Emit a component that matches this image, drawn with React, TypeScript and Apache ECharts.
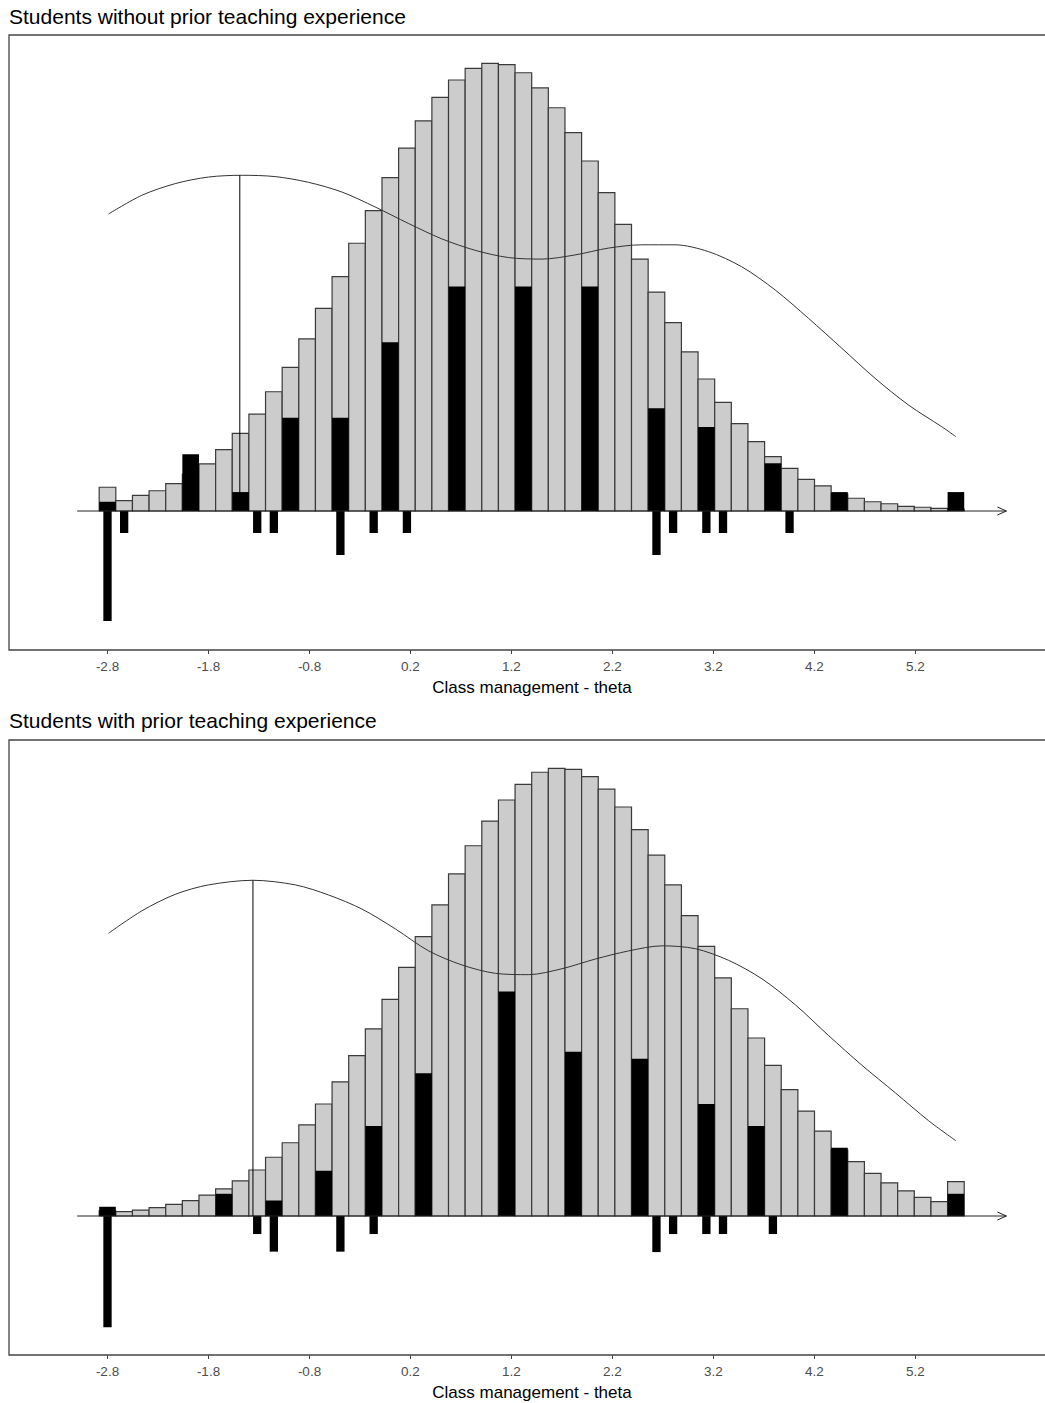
import React, { useEffect, useRef } from "react";
import * as echarts from "echarts";

// ---------- data ----------
const TITLES = [
  "Students without prior teaching experience",
  "Students with prior teaching experience",
];
const X_LABEL = "Class management - theta";
const TICKS = [-2.8, -1.8, -0.8, 0.2, 1.2, 2.2, 3.2, 4.2, 5.2];

// histogram bins: first and last bin centre (theta), 52 bins
const BIN_FIRST = -2.8;
const BIN_LAST = 5.6;
const BIN_COUNT = 52;

// axis arrow extent (theta)
const AXIS_FROM = -3.1;
const AXIS_TO = 6.1;

// Panel 1: without prior teaching experience
const grey1 = [
  1.08, 0.47, 0.71, 0.92, 1.24, 1.68, 2.14, 2.79, 3.53, 4.4,
  5.42, 6.53, 7.82, 9.21, 10.65, 12.17, 13.65, 15.15, 16.49, 17.73,
  18.8, 19.59, 20.12, 20.35, 20.29, 19.92, 19.23, 18.33, 17.2, 15.91,
  14.47, 13.03, 11.45, 9.95, 8.56, 7.23, 6.0, 4.94, 3.97, 3.15,
  2.47, 1.94, 1.44, 1.14, 0.77, 0.58, 0.42, 0.33, 0.21, 0.17,
  0.12, 0.09,
];
const blackUp1 = [
  0.42, 0, 0, 0, 0, 2.58, 0, 0, 0.86, 0,
  0, 4.24, 0, 0, 4.24, 0, 0, 7.67, 0, 0,
  0, 10.2, 0, 0, 0, 10.2, 0, 0, 0, 10.2,
  0, 0, 0, 4.67, 0, 0, 3.82, 0, 0, 0,
  2.17, 0, 0, 0, 0.86, 0, 0, 0, 0, 0,
  0, 0.86,
];
const blackDown1 = [
  5, 1, 0, 0, 0, 0, 0, 0, 0, 1,
  1, 0, 0, 0, 2, 0, 1, 0, 1, 0,
  0, 0, 0, 0, 0, 0, 0, 0, 0, 0,
  0, 0, 0, 2, 1, 0, 1, 1, 0, 0,
  0, 1, 0, 0, 0, 0, 0, 0, 0, 0,
  0, 0,
];
const curve1: [number, number][] = [
  [-2.79, 13.5], [-2.46, 14.35], [-2.13, 14.88], [-1.8, 15.18], [-1.47, 15.26],
  [-1.14, 15.2], [-0.81, 14.94], [-0.48, 14.5], [-0.15, 13.82], [0.18, 13.07],
  [0.51, 12.37], [0.84, 11.85], [1.17, 11.52], [1.5, 11.45], [1.83, 11.64],
  [2.16, 11.95], [2.49, 12.1], [2.82, 12.1], [3.15, 11.79], [3.48, 11.1],
  [3.81, 10.05], [4.14, 8.76], [4.47, 7.4], [4.8, 6.03], [5.13, 4.82],
  [5.46, 3.83], [5.6, 3.38],
];
const peak1: [number, number] = [-1.49, 15.26];

// Panel 2: with prior teaching experience
const grey2 = [
  0.23, 0.2, 0.27, 0.38, 0.53, 0.7, 0.95, 1.23, 1.6, 2.09,
  2.67, 3.33, 4.14, 5.09, 6.1, 7.29, 8.51, 9.85, 11.3, 12.7,
  14.14, 15.55, 16.83, 17.95, 18.91, 19.62, 20.17, 20.35, 20.3, 19.97,
  19.4, 18.59, 17.56, 16.4, 15.05, 13.65, 12.26, 10.82, 9.42, 8.09,
  6.85, 5.74, 4.77, 3.86, 3.0, 2.47, 1.94, 1.51, 1.14, 0.85,
  0.65, 1.56,
];
const blackUp2 = [
  0.42, 0, 0, 0, 0, 0, 0, 1.01, 0, 0,
  0.7, 0, 0, 2.06, 0, 0, 4.09, 0, 0, 6.49,
  0, 0, 0, 0, 10.2, 0, 0, 0, 7.47, 0,
  0, 0, 7.15, 0, 0, 0, 5.09, 0, 0, 4.09,
  0, 0, 0, 0, 3.1, 0, 0, 0, 0, 0,
  0, 1.01,
];
const blackDown2 = [
  5.06, 0, 0, 0, 0, 0, 0, 0, 0, 0.82,
  1.62, 0, 0, 0, 1.62, 0, 0.82, 0, 0, 0,
  0, 0, 0, 0, 0, 0, 0, 0, 0, 0,
  0, 0, 0, 1.64, 0.82, 0, 0.82, 0.82, 0, 0,
  0.82, 0, 0, 0, 0, 0, 0, 0, 0, 0,
  0, 0,
];
const curve2: [number, number][] = [
  [-2.79, 12.85], [-2.46, 13.87], [-2.13, 14.62], [-1.8, 15.05], [-1.36, 15.26],
  [-0.94, 15.05], [-0.61, 14.59], [-0.28, 13.95], [0.05, 13.05], [0.38, 12.05],
  [0.71, 11.41], [1.04, 11.03], [1.37, 10.97], [1.7, 11.24], [2.03, 11.68],
  [2.36, 12.05], [2.69, 12.28], [3.02, 12.15], [3.35, 11.62], [3.68, 10.78],
  [4.01, 9.6], [4.34, 8.2], [4.67, 6.85], [5.0, 5.6], [5.33, 4.33],
  [5.6, 3.42],
];
const peak2: [number, number] = [-1.36, 15.26];

// ---------- layout ----------
const W = 1045;
const H = 1403;
const CHART_W = 1065;
const PX_PER_UNIT = 101;
const GRID_LEFT = 9;
const GRID_RIGHT = 10;
const GRID_W = CHART_W - GRID_LEFT - GRID_RIGHT;
const X_MIN = -2.8 - (107.5 - GRID_LEFT) / PX_PER_UNIT;
const X_MAX = X_MIN + GRID_W / PX_PER_UNIT;
const GRID_H = 615;
const Y_UNIT = 22;
const Y_MIN = -139 / Y_UNIT;
const Y_MAX = 476 / Y_UNIT;
const FONT = "'Liberation Sans', Arial, sans-serif";

const binWidth = (BIN_LAST - BIN_FIRST) / (BIN_COUNT - 1);
const binCentres = Array.from({ length: BIN_COUNT }, (_, i) => BIN_FIRST + i * binWidth);

function rectSeries(idx: number, values: number[], sign: number, widthFrac: number, fill: string, stroke: string | null) {
  const data = values
    .map((v, i) => [binCentres[i], sign * v])
    .filter((d) => d[1] !== 0);
  return {
    type: "custom",
    xAxisIndex: idx,
    yAxisIndex: idx,
    clip: false,
    silent: true,
    data,
    renderItem: (_params: any, api: any) => {
      const x = api.value(0);
      const h = api.value(1);
      const half = (binWidth * widthFrac) / 2;
      const p0 = api.coord([x - half, 0]);
      const p1 = api.coord([x + half, h]);
      return {
        type: "rect",
        shape: {
          x: p0[0],
          y: Math.min(p0[1], p1[1]),
          width: p1[0] - p0[0],
          height: Math.abs(p1[1] - p0[1]),
        },
        style: stroke
          ? { fill, stroke, lineWidth: 1.2 }
          : { fill, stroke: null },
      };
    },
  };
}

function arrowSeries(idx: number) {
  return {
    type: "custom",
    xAxisIndex: idx,
    yAxisIndex: idx,
    clip: false,
    silent: true,
    data: [[AXIS_FROM, 0, AXIS_TO]],
    renderItem: (_params: any, api: any) => {
      const a = api.coord([api.value(0), api.value(1)]);
      const b = api.coord([api.value(2), api.value(1)]);
      return {
        type: "group",
        children: [
          {
            type: "line",
            shape: { x1: a[0], y1: a[1], x2: b[0], y2: b[1] },
            style: { stroke: "#222", lineWidth: 1 },
          },
          {
            type: "polyline",
            shape: { points: [[b[0] - 9, b[1] - 4], [b[0], b[1]], [b[0] - 9, b[1] + 4]] },
            style: { stroke: "#222", lineWidth: 1, fill: null },
          },
        ],
      };
    },
  };
}

function panelSeries(idx: number, grey: number[], up: number[], down: number[], curve: [number, number][], peak: [number, number]) {
  return [
    rectSeries(idx, grey, 1, 1, "#cccccc", "#3a3a3a"),
    rectSeries(idx, up, 1, 1, "#000000", null),
    rectSeries(idx, down, -1, 0.5, "#000000", null),
    arrowSeries(idx),
    {
      type: "line",
      xAxisIndex: idx,
      yAxisIndex: idx,
      data: curve,
      smooth: 0.3,
      showSymbol: false,
      silent: true,
      lineStyle: { color: "#333", width: 1 },
    },
    {
      type: "line",
      xAxisIndex: idx,
      yAxisIndex: idx,
      data: [[peak[0], 0], peak],
      showSymbol: false,
      silent: true,
      lineStyle: { color: "#000", width: 1 },
    },
  ];
}

function xAxis(idx: number) {
  return {
    type: "value",
    gridIndex: idx,
    min: X_MIN,
    max: X_MAX,
    position: "bottom",
    axisLine: { show: false, onZero: false },
    axisTick: {
      show: true,
      customValues: TICKS,
      length: 4,
      lineStyle: { color: "#444", width: 1 },
    },
    axisLabel: {
      customValues: TICKS,
      formatter: (v: number) => v.toFixed(1),
      fontSize: 13.5,
      color: "#4d4d4d",
      margin: 9,
      fontFamily: FONT,
    },
    splitLine: { show: false },
    name: X_LABEL,
    nameLocation: "middle",
    nameGap: 29,
    nameTextStyle: { fontSize: 17, color: "#000", fontFamily: FONT },
  };
}

function yAxis(idx: number) {
  return { type: "value", gridIndex: idx, min: Y_MIN, max: Y_MAX, show: false };
}

export default function App() {
  const ref = useRef<HTMLDivElement>(null);
  useEffect(() => {
    if (!ref.current) return;
    const chart = echarts.init(ref.current, undefined, { renderer: "svg" });
    const gridBase = {
      left: GRID_LEFT,
      right: GRID_RIGHT,
      height: GRID_H,
      show: true,
      borderColor: "#444",
      borderWidth: 1.3,
      backgroundColor: "transparent",
    };
    chart.setOption({
      animation: false,
      backgroundColor: "#ffffff",
      title: [
        {
          text: TITLES[0],
          left: 9,
          top: 6,
          padding: 0,
          textStyle: { fontSize: 21, fontWeight: "normal", color: "#000", fontFamily: FONT },
        },
        {
          text: TITLES[1],
          left: 9,
          top: 710,
          padding: 0,
          textStyle: { fontSize: 21, fontWeight: "normal", color: "#000", fontFamily: FONT },
        },
      ],
      grid: [
        { ...gridBase, top: 35 },
        { ...gridBase, top: 740 },
      ],
      xAxis: [xAxis(0), xAxis(1)],
      yAxis: [yAxis(0), yAxis(1)],
      series: [
        ...panelSeries(0, grey1, blackUp1, blackDown1, curve1, peak1),
        ...panelSeries(1, grey2, blackUp2, blackDown2, curve2, peak2),
      ],
    });
    return () => chart.dispose();
  }, []);
  return (
    <div style={{ position: "absolute", left: 0, top: 0, width: W, height: H, overflow: "hidden" }}>
      <div ref={ref} style={{ width: CHART_W, height: H }} />
    </div>
  );
}
